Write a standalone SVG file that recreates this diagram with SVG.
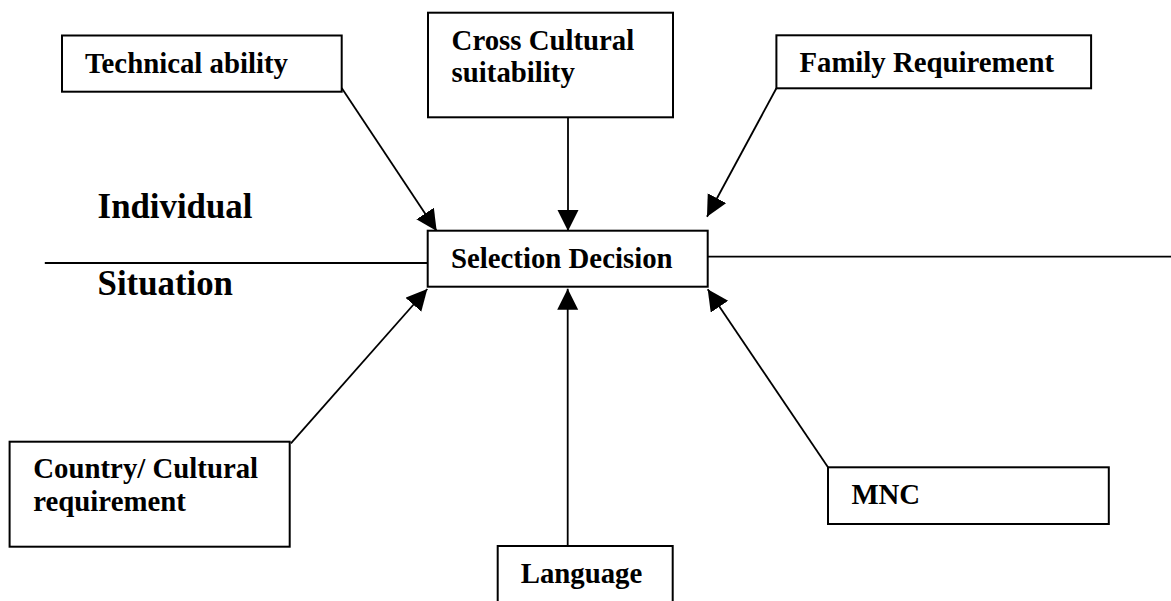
<svg xmlns="http://www.w3.org/2000/svg" width="1171" height="601" viewBox="0 0 1171 601">
  <defs>
    <marker id="arrow" markerUnits="userSpaceOnUse" markerWidth="22" markerHeight="22" refX="21" refY="10.5" orient="auto">
      <path d="M0,0 L21,10.5 L0,21 z" fill="#000"/>
    </marker>
    <style>
      .box { fill: #fff; stroke: #000; stroke-width: 2; }
      .lbl { font-family: "Liberation Serif", "Times New Roman", serif; font-weight: bold; font-size: 28.8px; fill: #000; }
      .big { font-family: "Liberation Serif", "Times New Roman", serif; font-weight: bold; font-size: 34.8px; fill: #000; }
      .conn { stroke: #000; stroke-width: 1.8; fill: none; }
      .arr { stroke: #000; stroke-width: 1.8; fill: none; marker-end: url(#arrow); }
    </style>
  </defs>
  <rect width="1171" height="601" fill="#fff"/>

  <g id="connectors">
    <line class="conn" x1="44.8" y1="263" x2="427.7" y2="263"/>
    <line class="conn" x1="707.7" y1="256.7" x2="1171" y2="256.7"/>
    <line class="arr" x1="341.7" y1="88" x2="436.7" y2="231"/>
    <line class="arr" x1="568" y1="101" x2="568" y2="231"/>
    <line class="arr" x1="776.4" y1="88.3" x2="707" y2="216.7"/>
    <line class="arr" x1="290.9" y1="443.3" x2="427.3" y2="289"/>
    <line class="arr" x1="567.7" y1="549" x2="567.7" y2="288.7"/>
    <line class="arr" x1="828" y1="467.3" x2="707.7" y2="289.3"/>
  </g>

  <g id="node-technical">
    <rect class="box" x="62" y="35.5" width="279.7" height="56.2"/>
    <text class="lbl" x="85" y="72.7">Technical ability</text>
  </g>
  <g id="node-cross">
    <rect class="box" x="428" y="12.7" width="245" height="104.6"/>
    <text class="lbl" x="451.6" y="50">Cross Cultural</text>
    <text class="lbl" x="451.6" y="81.7">suitability</text>
  </g>
  <g id="node-family">
    <rect class="box" x="776.4" y="35.3" width="314.7" height="53"/>
    <text class="lbl" x="799.4" y="72.3">Family Requirement</text>
  </g>
  <g id="node-selection">
    <rect class="box" x="427.7" y="230.7" width="280" height="56"/>
    <text class="lbl" x="451" y="268.3">Selection Decision</text>
  </g>
  <g id="node-country">
    <rect class="box" x="9.6" y="441.7" width="280.1" height="105"/>
    <text class="lbl" x="33.3" y="478.3">Country/ Cultural</text>
    <text class="lbl" x="33.3" y="510.7">requirement</text>
  </g>
  <g id="node-language">
    <rect class="box" x="497.7" y="546" width="175" height="80"/>
    <text class="lbl" x="520.7" y="583.3">Language</text>
  </g>
  <g id="node-mnc">
    <rect class="box" x="828" y="467.3" width="280.8" height="56.7"/>
    <text class="lbl" x="851.4" y="504">MNC</text>
  </g>

  <g id="labels">
    <text class="big" x="97.6" y="218.3">Individual</text>
    <text class="big" x="97.6" y="295">Situation</text>
  </g>
</svg>
